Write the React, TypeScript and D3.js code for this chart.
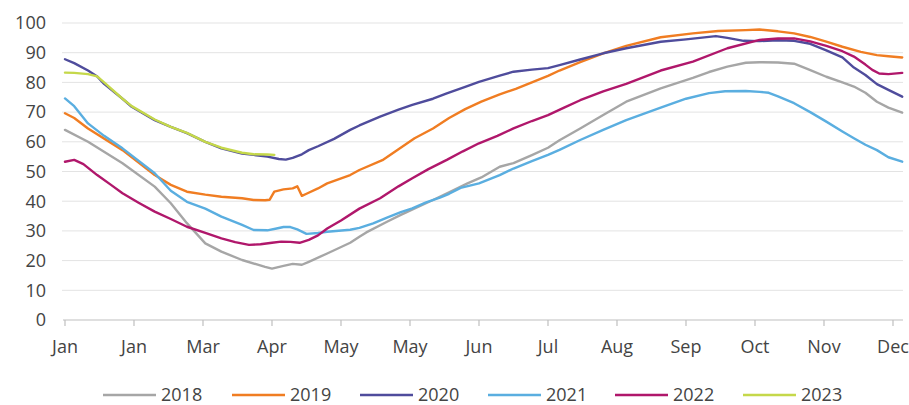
import React from "react";
import * as d3 from "d3";

// Day-of-year (0 = 1 Jan) and level (%) pairs for each year
const s2018: [number, number][] = [
  [0, 64], [10, 60], [25, 52.8], [39, 44.9], [46, 39.3], [53, 32.6], [61, 25.8], [68, 23], [77, 20.2],
  [87, 17.9], [90, 17.3], [95, 18.2], [99, 18.9], [103, 18.6], [106, 19.6], [114, 22.4], [124, 26],
  [128, 28], [131, 29.5], [140, 33.1], [146, 35.4], [160, 40.4], [167, 43], [175, 46], [181, 48],
  [189, 51.6], [195, 52.8], [203, 55.5], [210, 58], [215, 60.5], [224, 64.5], [234, 69], [244, 73.5],
  [259, 78], [273, 81.5], [280, 83.5], [288, 85.3], [296, 86.6], [302, 86.8], [310, 86.7], [317, 86.3],
  [323, 84.5], [331, 81.9], [338, 80], [343, 78.6], [348, 76.5], [353, 73.5], [358, 71.5], [364, 69.8],
];
const s2019: [number, number][] = [
  [0, 69.6], [4, 68], [10, 64.5], [25, 57.2], [39, 48.8], [46, 45.5], [53, 43.2], [61, 42.2], [68, 41.5],
  [77, 41], [82, 40.4], [87, 40.3], [89, 40.5], [91, 43.2], [95, 44], [99, 44.3], [101, 45], [103, 41.8],
  [105, 42.5], [110, 44.3], [114, 46], [124, 48.8], [128, 50.5], [138, 53.8], [145, 57.5], [152, 61.2],
  [160, 64.5], [167, 68], [174, 71], [181, 73.5], [189, 76], [196, 77.8], [203, 80], [210, 82.2],
  [215, 84], [224, 86.8], [234, 89.8], [244, 92.3], [259, 95.2], [273, 96.5], [284, 97.3], [296, 97.6],
  [302, 97.8], [310, 97.2], [317, 96.5], [324, 95.3], [331, 93.7], [338, 92], [346, 90.3], [353, 89.2],
  [358, 88.8], [364, 88.4],
];
const s2020: [number, number][] = [
  [0, 87.8], [4, 86.5], [10, 84], [14, 82], [17, 79.5], [25, 74.5], [29, 71.8], [39, 67.3], [46, 65],
  [53, 62.9], [61, 60], [68, 57.8], [77, 56], [82, 55.6], [88, 55], [93, 54.2], [96, 54], [99, 54.6],
  [103, 55.8], [106, 57.2], [110, 58.5], [117, 61], [124, 64], [128, 65.5], [137, 68.5], [145, 70.8],
  [151, 72.4], [160, 74.5], [166, 76.3], [174, 78.5], [180, 80.2], [189, 82.3], [195, 83.6], [203, 84.3],
  [210, 84.8], [215, 85.8], [224, 87.7], [234, 89.8], [244, 91.5], [259, 93.7], [270, 94.5], [283, 95.6],
  [288, 95], [295, 94], [302, 93.9], [310, 94.2], [317, 94], [324, 93], [331, 90.8], [338, 88.4],
  [343, 85], [348, 82.5], [353, 79.4], [358, 77.5], [364, 75.2],
];
const s2021: [number, number][] = [
  [0, 74.6], [4, 72], [10, 66.2], [17, 62], [25, 57.8], [39, 49.4], [46, 43.5], [53, 39.8], [61, 37.5],
  [68, 34.8], [77, 32], [82, 30.3], [88, 30.2], [92, 30.8], [95, 31.3], [98, 31.3], [101, 30.5],
  [105, 29], [110, 29.3], [114, 29.7], [124, 30.4], [128, 31], [134, 32.5], [140, 34.5], [146, 36.3],
  [151, 37.6], [157, 39.6], [163, 41.2], [167, 42.5], [172, 44.5], [180, 46], [189, 48.8], [195, 51],
  [203, 53.5], [210, 55.6], [215, 57.3], [224, 60.6], [234, 64], [244, 67.3], [259, 71.5], [270, 74.5],
  [280, 76.4], [287, 77], [296, 77.1], [302, 76.8], [306, 76.5], [310, 75.3], [317, 73], [324, 70],
  [331, 66.8], [338, 63.5], [343, 61.2], [348, 59], [353, 57.2], [358, 54.8], [364, 53.3],
];
const s2022: [number, number][] = [
  [0, 53.3], [4, 53.9], [8, 52.5], [14, 48.8], [20, 45.5], [25, 42.7], [32, 39.5], [39, 36.5], [46, 34],
  [53, 31.4], [61, 29.3], [68, 27.5], [74, 26.2], [80, 25.3], [85, 25.5], [90, 26], [94, 26.4],
  [98, 26.3], [102, 26], [106, 27], [110, 28.5], [114, 30.8], [120, 33.5], [128, 37.5], [137, 41],
  [145, 45], [151, 47.7], [158, 50.8], [166, 53.9], [173, 56.8], [180, 59.5], [188, 62], [195, 64.5],
  [203, 67], [210, 69], [217, 71.5], [224, 74], [234, 77], [244, 79.5], [259, 84], [273, 87],
  [288, 91.5], [302, 94.3], [310, 94.8], [317, 94.8], [324, 93.8], [331, 92.3], [338, 90.5],
  [343, 88.7], [348, 86], [351, 84.2], [354, 83], [358, 82.8], [364, 83.2],
];
const s2023: [number, number][] = [
  [0, 83.3], [4, 83.2], [10, 82.8], [14, 82], [17, 80], [25, 74.5], [29, 72], [39, 67.5], [46, 65],
  [53, 63], [61, 60], [68, 58], [77, 56.3], [82, 55.8], [88, 55.7], [91, 55.6],
];

const years = ["2018", "2019", "2020", "2021", "2022", "2023"];
const seriesData = [s2018, s2019, s2020, s2021, s2022, s2023];
const colors = ["#a6a6a6", "#f07d22", "#4f4c9c", "#5aaee0", "#b0176b", "#c5d84a"];

const xTickDays = [0, 30, 60, 90, 120, 150, 180, 210, 240, 270, 300, 330, 360];
const xTickLabels = ["Jan", "Jan", "Mar", "Apr", "May", "May", "Jun", "Jul", "Aug", "Sep", "Oct", "Nov", "Dec"];
const yTicks = [0, 10, 20, 30, 40, 50, 60, 70, 80, 90, 100];

const W = 909;
const H = 405;
const FONT = "'Open Sans', 'DejaVu Sans', sans-serif";
const TEXT = "#444";

export default function App() {
  const x = d3.scaleLinear().domain([0, 360]).range([65, 893]);
  const y = d3.scaleLinear().domain([0, 100]).range([320, 23]);
  const line = d3
    .line<[number, number]>()
    .x((d) => x(d[0]))
    .y((d) => y(d[1]));

  const legendX = [103, 232, 360, 488, 615, 743];
  const legendY = 395;

  return (
    <svg
      width={W}
      height={H}
      style={{ position: "absolute", left: 0, top: 0, background: "#fff" }}
      fontFamily={FONT}
    >
      {/* horizontal gridlines */}
      {yTicks.slice(1).map((t) => (
        <line key={t} x1={62} x2={903} y1={y(t)} y2={y(t)} stroke="#e3e3e3" strokeWidth={1} />
      ))}
      {/* y tick labels */}
      {yTicks.map((t) => (
        <text key={t} x={46} y={y(t)} dy="0.35em" textAnchor="end" fontSize={18} fill={TEXT}>
          {t}
        </text>
      ))}
      {/* x axis */}
      <line x1={63} x2={903} y1={y(0)} y2={y(0)} stroke="#bfbfbf" strokeWidth={1.2} />
      {xTickDays.map((d, i) => (
        <g key={d}>
          <line x1={x(d)} x2={x(d)} y1={y(0)} y2={y(0) + 6} stroke="#bfbfbf" strokeWidth={1.2} />
          <text x={x(d)} y={353} textAnchor="middle" fontSize={18} fill={TEXT}>
            {xTickLabels[i]}
          </text>
        </g>
      ))}
      {/* series lines */}
      {seriesData.map((s, i) => (
        <path
          key={years[i]}
          d={line(s) || ""}
          fill="none"
          stroke={colors[i]}
          strokeWidth={2.4}
          strokeLinejoin="round"
          strokeLinecap="round"
        />
      ))}
      {/* legend */}
      {years.map((yr, i) => (
        <g key={yr}>
          <line
            x1={legendX[i]}
            x2={legendX[i] + 53}
            y1={legendY}
            y2={legendY}
            stroke={colors[i]}
            strokeWidth={2.4}
          />
          <text x={legendX[i] + 58} y={legendY} dy="0.35em" fontSize={18} fill={TEXT}>
            {yr}
          </text>
        </g>
      ))}
    </svg>
  );
}
